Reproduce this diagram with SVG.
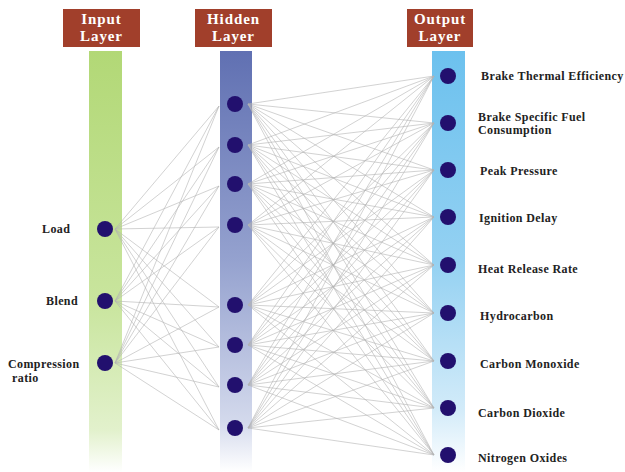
<svg xmlns="http://www.w3.org/2000/svg" width="625" height="472" viewBox="0 0 625 472">
<defs>
<linearGradient id="gIn" x1="0" y1="0" x2="0" y2="1">
<stop offset="0" stop-color="#B2D876"/>
<stop offset="0.6" stop-color="#C9E59E"/>
<stop offset="0.9" stop-color="#E2F1CC"/>
<stop offset="1" stop-color="#ffffff"/>
</linearGradient>
<linearGradient id="gHid" x1="0" y1="0" x2="0" y2="1">
<stop offset="0" stop-color="#6070B2"/>
<stop offset="0.5" stop-color="#95A2CF"/>
<stop offset="0.88" stop-color="#D3D9EC"/>
<stop offset="1" stop-color="#ffffff"/>
</linearGradient>
<linearGradient id="gOut" x1="0" y1="0" x2="0" y2="1">
<stop offset="0" stop-color="#6CC1EE"/>
<stop offset="0.5" stop-color="#94D1F2"/>
<stop offset="0.85" stop-color="#D2EBF9"/>
<stop offset="1" stop-color="#ffffff"/>
</linearGradient>
</defs>
<style>
.hdr{fill:#A13F2B}
.ht{fill:#ffffff;font-family:"Liberation Serif",serif;font-weight:bold;font-size:15px;letter-spacing:0.9px;text-anchor:middle}
.nd{fill:#22106E}
.lb{fill:#222222;font-family:"Liberation Serif",serif;font-weight:bold;font-size:12px;letter-spacing:0.4px}
.cn line{stroke:#b4b4b4;stroke-width:0.6}
</style>
<rect width="625" height="472" fill="#ffffff"/>
<g id="bars">
<rect x="89" y="51" width="33" height="421" fill="url(#gIn)"/>
<rect x="220" y="51" width="32" height="421" fill="url(#gHid)"/>
<rect x="432" y="51" width="33" height="421" fill="url(#gOut)"/>
</g>
<g id="hdr-input"><rect class="hdr" x="63" y="9" width="77" height="38"/><text class="ht" x="101.5" y="24">Input</text><text class="ht" x="101.5" y="41">Layer</text></g>
<g id="hdr-hidden"><rect class="hdr" x="195" y="9" width="77" height="38"/><text class="ht" x="233.5" y="24">Hidden</text><text class="ht" x="233.5" y="41">Layer</text></g>
<g id="hdr-output"><rect class="hdr" x="407" y="9" width="66" height="38"/><text class="ht" x="440" y="24">Output</text><text class="ht" x="440" y="41">Layer</text></g>
<g id="connectors" class="cn">
<line x1="115" y1="229" x2="219" y2="106"/><line x1="115" y1="229" x2="219" y2="147"/><line x1="115" y1="229" x2="219" y2="186"/><line x1="115" y1="229" x2="219" y2="227"/><line x1="115" y1="229" x2="219" y2="307"/><line x1="115" y1="229" x2="219" y2="347"/><line x1="115" y1="229" x2="219" y2="387"/><line x1="115" y1="229" x2="219" y2="430"/>
<line x1="115" y1="301" x2="219" y2="106"/><line x1="115" y1="301" x2="219" y2="147"/><line x1="115" y1="301" x2="219" y2="186"/><line x1="115" y1="301" x2="219" y2="227"/><line x1="115" y1="301" x2="219" y2="307"/><line x1="115" y1="301" x2="219" y2="347"/><line x1="115" y1="301" x2="219" y2="387"/><line x1="115" y1="301" x2="219" y2="430"/>
<line x1="115" y1="363" x2="219" y2="106"/><line x1="115" y1="363" x2="219" y2="147"/><line x1="115" y1="363" x2="219" y2="186"/><line x1="115" y1="363" x2="219" y2="227"/><line x1="115" y1="363" x2="219" y2="307"/><line x1="115" y1="363" x2="219" y2="347"/><line x1="115" y1="363" x2="219" y2="387"/><line x1="115" y1="363" x2="219" y2="430"/>
<line x1="248" y1="104" x2="434" y2="76"/><line x1="248" y1="104" x2="434" y2="123"/><line x1="248" y1="104" x2="434" y2="170"/><line x1="248" y1="104" x2="434" y2="217"/><line x1="248" y1="104" x2="434" y2="265"/><line x1="248" y1="104" x2="434" y2="313"/><line x1="248" y1="104" x2="434" y2="361"/><line x1="248" y1="104" x2="434" y2="408"/><line x1="248" y1="104" x2="434" y2="455"/>
<line x1="248" y1="145" x2="434" y2="76"/><line x1="248" y1="145" x2="434" y2="123"/><line x1="248" y1="145" x2="434" y2="170"/><line x1="248" y1="145" x2="434" y2="217"/><line x1="248" y1="145" x2="434" y2="265"/><line x1="248" y1="145" x2="434" y2="313"/><line x1="248" y1="145" x2="434" y2="361"/><line x1="248" y1="145" x2="434" y2="408"/><line x1="248" y1="145" x2="434" y2="455"/>
<line x1="248" y1="184" x2="434" y2="76"/><line x1="248" y1="184" x2="434" y2="123"/><line x1="248" y1="184" x2="434" y2="170"/><line x1="248" y1="184" x2="434" y2="217"/><line x1="248" y1="184" x2="434" y2="265"/><line x1="248" y1="184" x2="434" y2="313"/><line x1="248" y1="184" x2="434" y2="361"/><line x1="248" y1="184" x2="434" y2="408"/><line x1="248" y1="184" x2="434" y2="455"/>
<line x1="248" y1="225" x2="434" y2="76"/><line x1="248" y1="225" x2="434" y2="123"/><line x1="248" y1="225" x2="434" y2="170"/><line x1="248" y1="225" x2="434" y2="217"/><line x1="248" y1="225" x2="434" y2="265"/><line x1="248" y1="225" x2="434" y2="313"/><line x1="248" y1="225" x2="434" y2="361"/><line x1="248" y1="225" x2="434" y2="408"/><line x1="248" y1="225" x2="434" y2="455"/>
<line x1="248" y1="305" x2="434" y2="76"/><line x1="248" y1="305" x2="434" y2="123"/><line x1="248" y1="305" x2="434" y2="170"/><line x1="248" y1="305" x2="434" y2="217"/><line x1="248" y1="305" x2="434" y2="265"/><line x1="248" y1="305" x2="434" y2="313"/><line x1="248" y1="305" x2="434" y2="361"/><line x1="248" y1="305" x2="434" y2="408"/><line x1="248" y1="305" x2="434" y2="455"/>
<line x1="248" y1="345" x2="434" y2="76"/><line x1="248" y1="345" x2="434" y2="123"/><line x1="248" y1="345" x2="434" y2="170"/><line x1="248" y1="345" x2="434" y2="217"/><line x1="248" y1="345" x2="434" y2="265"/><line x1="248" y1="345" x2="434" y2="313"/><line x1="248" y1="345" x2="434" y2="361"/><line x1="248" y1="345" x2="434" y2="408"/><line x1="248" y1="345" x2="434" y2="455"/>
<line x1="248" y1="385" x2="434" y2="76"/><line x1="248" y1="385" x2="434" y2="123"/><line x1="248" y1="385" x2="434" y2="170"/><line x1="248" y1="385" x2="434" y2="217"/><line x1="248" y1="385" x2="434" y2="265"/><line x1="248" y1="385" x2="434" y2="313"/><line x1="248" y1="385" x2="434" y2="361"/><line x1="248" y1="385" x2="434" y2="408"/><line x1="248" y1="385" x2="434" y2="455"/>
<line x1="248" y1="428" x2="434" y2="76"/><line x1="248" y1="428" x2="434" y2="123"/><line x1="248" y1="428" x2="434" y2="170"/><line x1="248" y1="428" x2="434" y2="217"/><line x1="248" y1="428" x2="434" y2="265"/><line x1="248" y1="428" x2="434" y2="313"/><line x1="248" y1="428" x2="434" y2="361"/><line x1="248" y1="428" x2="434" y2="408"/><line x1="248" y1="428" x2="434" y2="455"/>
</g>
<g id="in-load"><circle class="nd" cx="105" cy="229" r="8"/><text class="lb" x="42" y="233">Load</text></g>
<g id="in-blend"><circle class="nd" cx="105" cy="301" r="8"/><text class="lb" x="46" y="305">Blend</text></g>
<g id="in-cr"><circle class="nd" cx="105" cy="363" r="8"/><text class="lb" x="8" y="368">Compression</text><text class="lb" x="12" y="382">ratio</text></g>
<g id="h1"><circle class="nd" cx="235" cy="104" r="8"/></g>
<g id="h2"><circle class="nd" cx="235" cy="145" r="8"/></g>
<g id="h3"><circle class="nd" cx="235" cy="184" r="8"/></g>
<g id="h4"><circle class="nd" cx="235" cy="225" r="8"/></g>
<g id="h5"><circle class="nd" cx="235" cy="305" r="8"/></g>
<g id="h6"><circle class="nd" cx="235" cy="345" r="8"/></g>
<g id="h7"><circle class="nd" cx="235" cy="385" r="8"/></g>
<g id="h8"><circle class="nd" cx="235" cy="428" r="8"/></g>
<g id="o-bte"><circle class="nd" cx="448" cy="76" r="8"/><text class="lb" x="481" y="80">Brake Thermal Efficiency</text></g>
<g id="o-bsfc"><circle class="nd" cx="448" cy="123" r="8"/><text class="lb" x="478" y="121">Brake Specific Fuel</text><text class="lb" x="478" y="134">Consumption</text></g>
<g id="o-pp"><circle class="nd" cx="448" cy="170" r="8"/><text class="lb" x="480" y="175">Peak Pressure</text></g>
<g id="o-id"><circle class="nd" cx="448" cy="217" r="8"/><text class="lb" x="479" y="222">Ignition Delay</text></g>
<g id="o-hrr"><circle class="nd" cx="448" cy="265" r="8"/><text class="lb" x="478" y="273">Heat Release Rate</text></g>
<g id="o-hc"><circle class="nd" cx="448" cy="313" r="8"/><text class="lb" x="480" y="320">Hydrocarbon</text></g>
<g id="o-co"><circle class="nd" cx="448" cy="361" r="8"/><text class="lb" x="480" y="368">Carbon Monoxide</text></g>
<g id="o-co2"><circle class="nd" cx="448" cy="408" r="8"/><text class="lb" x="478" y="417">Carbon Dioxide</text></g>
<g id="o-nox"><circle class="nd" cx="448" cy="455" r="8"/><text class="lb" x="478" y="462">Nitrogen Oxides</text></g>
</svg>
